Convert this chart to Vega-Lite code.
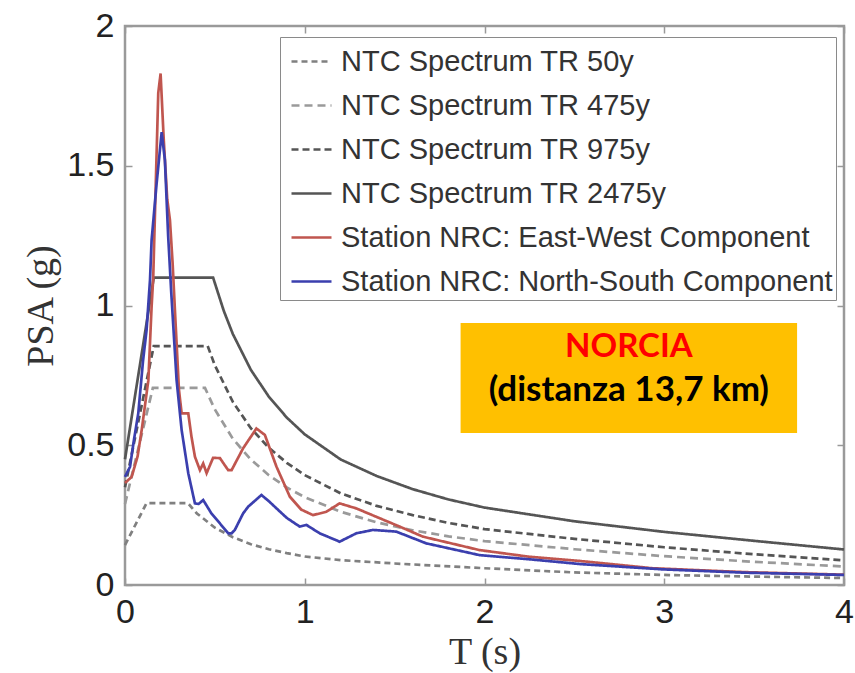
{
  "$schema": "https://vega.github.io/schema/vega-lite/v6.json",
  "width": 719,
  "height": 559,
  "autosize": "none",
  "padding": {"left": 125, "top": 26, "right": 11, "bottom": 88},
  "background": "white",
  "config": {
    "view": {"stroke": "#9a9a9a", "strokeWidth": 2.5},
    "axis": {
      "labelFont": "Liberation Sans",
      "labelFontSize": 34,
      "labelColor": "#222222",
      "labelFlush": false,
      "titleFont": "Liberation Serif",
      "titleFontSize": 38,
      "titleFontWeight": "normal",
      "titleColor": "#333333",
      "domain": false,
      "grid": false,
      "tickColor": "#999999",
      "tickWidth": 1.5,
      "tickSize": -7
    }
  },
  "layer": [
    {
      "data": {"values": [{"x1": 1.867, "x2": 3.739, "y1": 0.937, "y2": 0.544}]},
      "mark": {"type": "rect", "color": "#FFC000"},
      "encoding": {
        "x": {"field": "x1", "type": "quantitative", "scale": {"domain": [0, 4], "nice": false},
              "axis": {"orient": "top", "labels": false, "title": null, "values": [0, 1, 2, 3, 4]}},
        "x2": {"field": "x2"},
        "y": {"field": "y1", "type": "quantitative", "scale": {"domain": [0, 2], "nice": false},
              "axis": {"orient": "right", "labels": false, "title": null, "values": [0, 0.5, 1, 1.5, 2]}},
        "y2": {"field": "y2"}
      }
    },
    {
      "data": {"values": [{"T": 2.803, "PSA": 0.852, "label": "NORCIA"}]},
      "mark": {"type": "text", "font": "Lato", "fontSize": 33, "fontWeight": "bold", "color": "#ff0000", "align": "center", "baseline": "middle"},
      "encoding": {
        "x": {"field": "T", "type": "quantitative", "axis": null},
        "y": {"field": "PSA", "type": "quantitative", "axis": null},
        "text": {"field": "label"}
      }
    },
    {
      "data": {"values": [{"T": 2.803, "PSA": 0.698, "label": "(distanza 13,7 km)"}]},
      "mark": {"type": "text", "font": "Lato", "fontSize": 35, "fontWeight": "bold", "color": "#000000", "align": "center", "baseline": "middle"},
      "encoding": {
        "x": {"field": "T", "type": "quantitative", "axis": null},
        "y": {"field": "PSA", "type": "quantitative", "axis": null},
        "text": {"field": "label"}
      }
    },
    {
      "data": {"values": [
        {"series": "NTC Spectrum TR 50y", "T": 0, "PSA": 0.143},
        {"series": "NTC Spectrum TR 50y", "T": 0.12, "PSA": 0.293},
        {"series": "NTC Spectrum TR 50y", "T": 0.35, "PSA": 0.293},
        {"series": "NTC Spectrum TR 50y", "T": 0.4, "PSA": 0.256},
        {"series": "NTC Spectrum TR 50y", "T": 0.5, "PSA": 0.205},
        {"series": "NTC Spectrum TR 50y", "T": 0.6, "PSA": 0.171},
        {"series": "NTC Spectrum TR 50y", "T": 0.7, "PSA": 0.146},
        {"series": "NTC Spectrum TR 50y", "T": 0.8, "PSA": 0.128},
        {"series": "NTC Spectrum TR 50y", "T": 0.9, "PSA": 0.114},
        {"series": "NTC Spectrum TR 50y", "T": 1.0, "PSA": 0.102},
        {"series": "NTC Spectrum TR 50y", "T": 1.2, "PSA": 0.089},
        {"series": "NTC Spectrum TR 50y", "T": 1.5, "PSA": 0.077},
        {"series": "NTC Spectrum TR 50y", "T": 2.0, "PSA": 0.06},
        {"series": "NTC Spectrum TR 50y", "T": 2.5, "PSA": 0.045},
        {"series": "NTC Spectrum TR 50y", "T": 3.0, "PSA": 0.036},
        {"series": "NTC Spectrum TR 50y", "T": 3.5, "PSA": 0.03},
        {"series": "NTC Spectrum TR 50y", "T": 4.0, "PSA": 0.025},

        {"series": "NTC Spectrum TR 475y", "T": 0, "PSA": 0.29},
        {"series": "NTC Spectrum TR 475y", "T": 0.155, "PSA": 0.705},
        {"series": "NTC Spectrum TR 475y", "T": 0.445, "PSA": 0.705},
        {"series": "NTC Spectrum TR 475y", "T": 0.5, "PSA": 0.628},
        {"series": "NTC Spectrum TR 475y", "T": 0.6, "PSA": 0.523},
        {"series": "NTC Spectrum TR 475y", "T": 0.7, "PSA": 0.449},
        {"series": "NTC Spectrum TR 475y", "T": 0.8, "PSA": 0.393},
        {"series": "NTC Spectrum TR 475y", "T": 0.9, "PSA": 0.349},
        {"series": "NTC Spectrum TR 475y", "T": 1.0, "PSA": 0.314},
        {"series": "NTC Spectrum TR 475y", "T": 1.2, "PSA": 0.262},
        {"series": "NTC Spectrum TR 475y", "T": 1.4, "PSA": 0.224},
        {"series": "NTC Spectrum TR 475y", "T": 1.6, "PSA": 0.196},
        {"series": "NTC Spectrum TR 475y", "T": 1.8, "PSA": 0.174},
        {"series": "NTC Spectrum TR 475y", "T": 2.0, "PSA": 0.157},
        {"series": "NTC Spectrum TR 475y", "T": 2.5, "PSA": 0.128},
        {"series": "NTC Spectrum TR 475y", "T": 3.0, "PSA": 0.103},
        {"series": "NTC Spectrum TR 475y", "T": 3.5, "PSA": 0.083},
        {"series": "NTC Spectrum TR 475y", "T": 4.0, "PSA": 0.066},

        {"series": "NTC Spectrum TR 975y", "T": 0, "PSA": 0.35},
        {"series": "NTC Spectrum TR 975y", "T": 0.16, "PSA": 0.855},
        {"series": "NTC Spectrum TR 975y", "T": 0.46, "PSA": 0.855},
        {"series": "NTC Spectrum TR 975y", "T": 0.5, "PSA": 0.786},
        {"series": "NTC Spectrum TR 975y", "T": 0.6, "PSA": 0.655},
        {"series": "NTC Spectrum TR 975y", "T": 0.7, "PSA": 0.561},
        {"series": "NTC Spectrum TR 975y", "T": 0.8, "PSA": 0.491},
        {"series": "NTC Spectrum TR 975y", "T": 0.9, "PSA": 0.437},
        {"series": "NTC Spectrum TR 975y", "T": 1.0, "PSA": 0.393},
        {"series": "NTC Spectrum TR 975y", "T": 1.2, "PSA": 0.328},
        {"series": "NTC Spectrum TR 975y", "T": 1.4, "PSA": 0.283},
        {"series": "NTC Spectrum TR 975y", "T": 1.6, "PSA": 0.25},
        {"series": "NTC Spectrum TR 975y", "T": 1.8, "PSA": 0.222},
        {"series": "NTC Spectrum TR 975y", "T": 2.0, "PSA": 0.2},
        {"series": "NTC Spectrum TR 975y", "T": 2.5, "PSA": 0.165},
        {"series": "NTC Spectrum TR 975y", "T": 3.0, "PSA": 0.135},
        {"series": "NTC Spectrum TR 975y", "T": 3.5, "PSA": 0.11},
        {"series": "NTC Spectrum TR 975y", "T": 4.0, "PSA": 0.088},

        {"series": "NTC Spectrum TR 2475y", "T": 0, "PSA": 0.45},
        {"series": "NTC Spectrum TR 2475y", "T": 0.16, "PSA": 1.1},
        {"series": "NTC Spectrum TR 2475y", "T": 0.49, "PSA": 1.1},
        {"series": "NTC Spectrum TR 2475y", "T": 0.55, "PSA": 0.98},
        {"series": "NTC Spectrum TR 2475y", "T": 0.6, "PSA": 0.898},
        {"series": "NTC Spectrum TR 2475y", "T": 0.7, "PSA": 0.77},
        {"series": "NTC Spectrum TR 2475y", "T": 0.8, "PSA": 0.674},
        {"series": "NTC Spectrum TR 2475y", "T": 0.9, "PSA": 0.599},
        {"series": "NTC Spectrum TR 2475y", "T": 1.0, "PSA": 0.539},
        {"series": "NTC Spectrum TR 2475y", "T": 1.2, "PSA": 0.449},
        {"series": "NTC Spectrum TR 2475y", "T": 1.4, "PSA": 0.39},
        {"series": "NTC Spectrum TR 2475y", "T": 1.6, "PSA": 0.343},
        {"series": "NTC Spectrum TR 2475y", "T": 1.8, "PSA": 0.306},
        {"series": "NTC Spectrum TR 2475y", "T": 2.0, "PSA": 0.277},
        {"series": "NTC Spectrum TR 2475y", "T": 2.5, "PSA": 0.228},
        {"series": "NTC Spectrum TR 2475y", "T": 3.0, "PSA": 0.19},
        {"series": "NTC Spectrum TR 2475y", "T": 3.5, "PSA": 0.158},
        {"series": "NTC Spectrum TR 2475y", "T": 4.0, "PSA": 0.127},

        {"series": "Station NRC: East-West Component", "T": 0, "PSA": 0.365},
        {"series": "Station NRC: East-West Component", "T": 0.037, "PSA": 0.387},
        {"series": "Station NRC: East-West Component", "T": 0.07, "PSA": 0.46},
        {"series": "Station NRC: East-West Component", "T": 0.093, "PSA": 0.555},
        {"series": "Station NRC: East-West Component", "T": 0.13, "PSA": 0.733},
        {"series": "Station NRC: East-West Component", "T": 0.148, "PSA": 0.996},
        {"series": "Station NRC: East-West Component", "T": 0.157, "PSA": 1.1},
        {"series": "Station NRC: East-West Component", "T": 0.185, "PSA": 1.76},
        {"series": "Station NRC: East-West Component", "T": 0.198, "PSA": 1.83},
        {"series": "Station NRC: East-West Component", "T": 0.215, "PSA": 1.6},
        {"series": "Station NRC: East-West Component", "T": 0.235, "PSA": 1.38},
        {"series": "Station NRC: East-West Component", "T": 0.25, "PSA": 1.306},
        {"series": "Station NRC: East-West Component", "T": 0.265, "PSA": 1.15},
        {"series": "Station NRC: East-West Component", "T": 0.278, "PSA": 0.98},
        {"series": "Station NRC: East-West Component", "T": 0.3, "PSA": 0.7},
        {"series": "Station NRC: East-West Component", "T": 0.315, "PSA": 0.614},
        {"series": "Station NRC: East-West Component", "T": 0.352, "PSA": 0.614},
        {"series": "Station NRC: East-West Component", "T": 0.37, "PSA": 0.53},
        {"series": "Station NRC: East-West Component", "T": 0.389, "PSA": 0.459},
        {"series": "Station NRC: East-West Component", "T": 0.417, "PSA": 0.411},
        {"series": "Station NRC: East-West Component", "T": 0.435, "PSA": 0.435},
        {"series": "Station NRC: East-West Component", "T": 0.454, "PSA": 0.4},
        {"series": "Station NRC: East-West Component", "T": 0.49, "PSA": 0.455},
        {"series": "Station NRC: East-West Component", "T": 0.528, "PSA": 0.454},
        {"series": "Station NRC: East-West Component", "T": 0.574, "PSA": 0.411},
        {"series": "Station NRC: East-West Component", "T": 0.593, "PSA": 0.411},
        {"series": "Station NRC: East-West Component", "T": 0.657, "PSA": 0.489},
        {"series": "Station NRC: East-West Component", "T": 0.731, "PSA": 0.56},
        {"series": "Station NRC: East-West Component", "T": 0.778, "PSA": 0.537},
        {"series": "Station NRC: East-West Component", "T": 0.843, "PSA": 0.423},
        {"series": "Station NRC: East-West Component", "T": 0.917, "PSA": 0.316},
        {"series": "Station NRC: East-West Component", "T": 0.98, "PSA": 0.27},
        {"series": "Station NRC: East-West Component", "T": 1.046, "PSA": 0.25},
        {"series": "Station NRC: East-West Component", "T": 1.12, "PSA": 0.262},
        {"series": "Station NRC: East-West Component", "T": 1.194, "PSA": 0.292},
        {"series": "Station NRC: East-West Component", "T": 1.287, "PSA": 0.274},
        {"series": "Station NRC: East-West Component", "T": 1.398, "PSA": 0.244},
        {"series": "Station NRC: East-West Component", "T": 1.528, "PSA": 0.209},
        {"series": "Station NRC: East-West Component", "T": 1.657, "PSA": 0.173},
        {"series": "Station NRC: East-West Component", "T": 1.972, "PSA": 0.125},
        {"series": "Station NRC: East-West Component", "T": 2.25, "PSA": 0.101},
        {"series": "Station NRC: East-West Component", "T": 2.53, "PSA": 0.086},
        {"series": "Station NRC: East-West Component", "T": 2.935, "PSA": 0.06},
        {"series": "Station NRC: East-West Component", "T": 3.45, "PSA": 0.046},
        {"series": "Station NRC: East-West Component", "T": 4.0, "PSA": 0.037},

        {"series": "Station NRC: North-South Component", "T": 0, "PSA": 0.387},
        {"series": "Station NRC: North-South Component", "T": 0.028, "PSA": 0.423},
        {"series": "Station NRC: North-South Component", "T": 0.05, "PSA": 0.52},
        {"series": "Station NRC: North-South Component", "T": 0.074, "PSA": 0.615},
        {"series": "Station NRC: North-South Component", "T": 0.1, "PSA": 0.8},
        {"series": "Station NRC: North-South Component", "T": 0.12, "PSA": 0.912},
        {"series": "Station NRC: North-South Component", "T": 0.139, "PSA": 1.09},
        {"series": "Station NRC: North-South Component", "T": 0.148, "PSA": 1.234},
        {"series": "Station NRC: North-South Component", "T": 0.175, "PSA": 1.43},
        {"series": "Station NRC: North-South Component", "T": 0.204, "PSA": 1.62},
        {"series": "Station NRC: North-South Component", "T": 0.222, "PSA": 1.52},
        {"series": "Station NRC: North-South Component", "T": 0.24, "PSA": 1.25},
        {"series": "Station NRC: North-South Component", "T": 0.257, "PSA": 1.05},
        {"series": "Station NRC: North-South Component", "T": 0.287, "PSA": 0.733},
        {"series": "Station NRC: North-South Component", "T": 0.315, "PSA": 0.555},
        {"series": "Station NRC: North-South Component", "T": 0.352, "PSA": 0.4},
        {"series": "Station NRC: North-South Component", "T": 0.389, "PSA": 0.292},
        {"series": "Station NRC: North-South Component", "T": 0.41, "PSA": 0.29},
        {"series": "Station NRC: North-South Component", "T": 0.435, "PSA": 0.304},
        {"series": "Station NRC: North-South Component", "T": 0.48, "PSA": 0.257},
        {"series": "Station NRC: North-South Component", "T": 0.574, "PSA": 0.185},
        {"series": "Station NRC: North-South Component", "T": 0.593, "PSA": 0.185},
        {"series": "Station NRC: North-South Component", "T": 0.611, "PSA": 0.197},
        {"series": "Station NRC: North-South Component", "T": 0.657, "PSA": 0.256},
        {"series": "Station NRC: North-South Component", "T": 0.685, "PSA": 0.28},
        {"series": "Station NRC: North-South Component", "T": 0.759, "PSA": 0.322},
        {"series": "Station NRC: North-South Component", "T": 0.8, "PSA": 0.3},
        {"series": "Station NRC: North-South Component", "T": 0.843, "PSA": 0.274},
        {"series": "Station NRC: North-South Component", "T": 0.9, "PSA": 0.24},
        {"series": "Station NRC: North-South Component", "T": 0.972, "PSA": 0.209},
        {"series": "Station NRC: North-South Component", "T": 1.009, "PSA": 0.215},
        {"series": "Station NRC: North-South Component", "T": 1.083, "PSA": 0.185},
        {"series": "Station NRC: North-South Component", "T": 1.194, "PSA": 0.155},
        {"series": "Station NRC: North-South Component", "T": 1.287, "PSA": 0.185},
        {"series": "Station NRC: North-South Component", "T": 1.38, "PSA": 0.197},
        {"series": "Station NRC: North-South Component", "T": 1.509, "PSA": 0.191},
        {"series": "Station NRC: North-South Component", "T": 1.676, "PSA": 0.149},
        {"series": "Station NRC: North-South Component", "T": 1.972, "PSA": 0.107},
        {"series": "Station NRC: North-South Component", "T": 2.25, "PSA": 0.092},
        {"series": "Station NRC: North-South Component", "T": 2.53, "PSA": 0.075},
        {"series": "Station NRC: North-South Component", "T": 2.99, "PSA": 0.056},
        {"series": "Station NRC: North-South Component", "T": 3.45, "PSA": 0.044},
        {"series": "Station NRC: North-South Component", "T": 4.0, "PSA": 0.036}
      ]},
      "mark": {"type": "line", "strokeWidth": 2.7, "interpolate": "linear"},
      "encoding": {
        "x": {"field": "T", "type": "quantitative", "title": "T (s)",
              "scale": {"domain": [0, 4], "nice": false},
              "axis": {"orient": "bottom", "values": [0, 1, 2, 3, 4], "labelPadding": 17, "titlePadding": 4}},
        "y": {"field": "PSA", "type": "quantitative", "title": "PSA (g)",
              "scale": {"domain": [0, 2], "nice": false},
              "axis": {"orient": "left", "values": [0, 0.5, 1, 1.5, 2], "format": "~g", "labelPadding": 18, "titlePadding": 6}},
        "color": {
          "field": "series", "type": "nominal",
          "scale": {
            "domain": ["NTC Spectrum TR 50y", "NTC Spectrum TR 475y", "NTC Spectrum TR 975y", "NTC Spectrum TR 2475y", "Station NRC: East-West Component", "Station NRC: North-South Component"],
            "range": ["#808080", "#9a9a9a", "#555555", "#555555", "#c0564f", "#3b3fae"]
          },
          "legend": {
            "orient": "none", "legendX": 155, "legendY": 11,
            "title": null,
            "symbolType": "stroke", "symbolSize": 1600, "symbolStrokeWidth": 2.5, "symbolOffset": 7,
            "labelFont": "Liberation Sans", "labelFontSize": 29, "labelColor": "#333333",
            "labelLimit": 0, "labelOffset": 8,
            "rowPadding": 7, "padding": 3,
            "strokeColor": "#8a8a8a", "fillColor": "white"
          }
        },
        "strokeDash": {
          "field": "series", "type": "nominal",
          "scale": {
            "domain": ["NTC Spectrum TR 50y", "NTC Spectrum TR 475y", "NTC Spectrum TR 975y", "NTC Spectrum TR 2475y", "Station NRC: East-West Component", "Station NRC: North-South Component"],
            "range": [[6, 4], [8, 5], [7, 4], [1, 0], [1, 0], [1, 0]]
          },
          "legend": {
            "orient": "none", "legendX": 155, "legendY": 11,
            "title": null,
            "symbolType": "stroke", "symbolSize": 1600, "symbolStrokeWidth": 2.5, "symbolOffset": 7,
            "labelFont": "Liberation Sans", "labelFontSize": 29, "labelColor": "#333333",
            "labelLimit": 0, "labelOffset": 8,
            "rowPadding": 7, "padding": 3,
            "strokeColor": "#8a8a8a", "fillColor": "white"
          }
        }
      }
    }
  ]
}
